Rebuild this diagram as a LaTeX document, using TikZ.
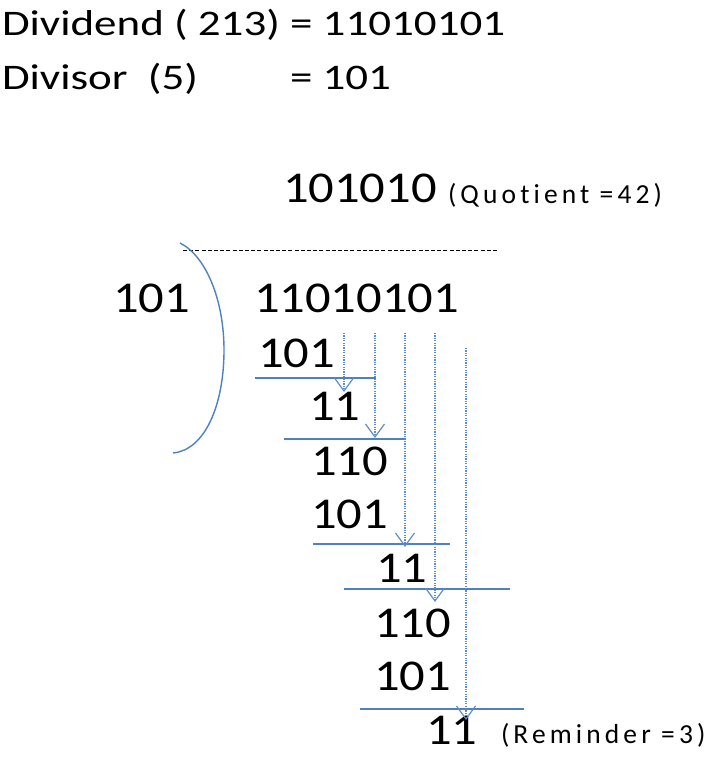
\documentclass[tikz,border=0pt]{standalone}
\usepackage{fontspec}
\setmainfont{Carlito}
\newfontfamily\hdrfont[FakeStretch=1.25]{Carlito}
\newfontfamily\numfont[FakeStretch=1.15]{Carlito}
\newfontfamily\smfont[LetterSpace=15, Ligatures=NoCommon]{Carlito}
\usetikzlibrary{arrows.meta}
\definecolor{obl}{HTML}{4F81BD}
\definecolor{dbl}{HTML}{5F8DCA}
\tikzset{
  txt/.style={anchor=base west, inner sep=0pt, outer sep=0pt, text=black},
  hdr/.style={txt, font=\hdrfont\fontsize{36}{36}\selectfont},
  num/.style={txt, font=\numfont\fontsize{44}{44}\selectfont},
  note/.style={txt, font=\smfont\fontsize{27.5}{27.5}\selectfont},
  rule/.style={draw=obl, line width=1.4pt},
  bring/.style={draw=dbl, line width=1.3pt, dash pattern=on 1.2pt off 1.2pt,
    -{Straight Barb[length=13pt, width=19pt, line width=1.2pt]}},
  bracket/.style={draw=obl, line width=1.4pt},
  sep/.style={draw=black, line width=0.9pt, dash pattern=on 4pt off 2.2pt}
}
\begin{document}
\begin{tikzpicture}[x=1pt, y=-1pt]
\useasboundingbox (0,0) rectangle (724,764);
% header
\node[hdr] (h1) at (2,35) {Dividend ( 213) = 11010101};
\node[hdr] (h2) at (2,89) {Divisor~~(5)};
\node[hdr] (h3) at (290,89) {= 101};
% quotient
\node[num] (q) at (283,202) {101010};
\node[note] (ql) at (448,203) {(Quotient =42)};
% separator and bracket
\coordinate (s1) at (183,250);
\coordinate (s2) at (497,250);
\draw[sep] (s1) -- (s2);
\coordinate (b1) at (180,243);
\coordinate (b2) at (224,350);
\coordinate (b3) at (173,453);
\draw[bracket] (b1) .. controls (206,256) and (224,300) .. (b2)
  .. controls (224,405) and (205,450) .. (b3);
% divisor and dividend
\node[num] (dv) at (113,312) {101};
\node[num] (dd) at (254,312) {11010101};
% steps
\node[num] (r1) at (258,367) {101};
\node[num] (r2) at (309,420) {11};
\node[num] (r3) at (311,475) {110};
\node[num] (r4) at (311,528) {101};
\node[num] (r5) at (376,582) {11};
\node[num] (r6) at (374,637) {110};
\node[num] (r7) at (374,690) {101};
\node[num] (r8) at (426,744) {11};
\node[note] (rl) at (501,743) {(Reminder =3)};
% subtraction rules
\coordinate (l1a) at (255,378); \coordinate (l1b) at (376,378);
\coordinate (l2a) at (284,439); \coordinate (l2b) at (406,439);
\coordinate (l3a) at (313,544); \coordinate (l3b) at (450,544);
\coordinate (l4a) at (344,589); \coordinate (l4b) at (510,589);
\coordinate (l5a) at (360,709); \coordinate (l5b) at (524,709);
\draw[rule] (l1a) -- (l1b);
\draw[rule] (l2a) -- (l2b);
\draw[rule] (l3a) -- (l3b);
\draw[rule] (l4a) -- (l4b);
\draw[rule] (l5a) -- (l5b);
% bring-down arrows
\coordinate (a1s) at (344,333); \coordinate (a1e) at (344,392);
\coordinate (a2s) at (375,333); \coordinate (a2e) at (375,438);
\coordinate (a3s) at (405,333); \coordinate (a3e) at (405,547);
\coordinate (a4s) at (435,333); \coordinate (a4e) at (435,602);
\coordinate (a5s) at (466,348); \coordinate (a5e) at (466,720);
\draw[bring] (a1s) -- (a1e);
\draw[bring] (a2s) -- (a2e);
\draw[bring] (a3s) -- (a3e);
\draw[bring] (a4s) -- (a4e);
\draw[bring] (a5s) -- (a5e);
\end{tikzpicture}
\end{document}
